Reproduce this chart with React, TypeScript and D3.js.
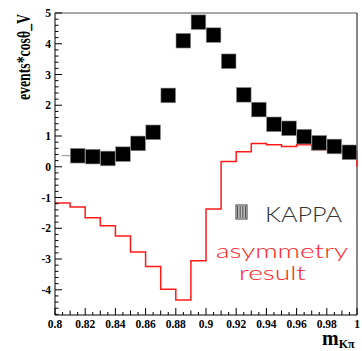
import React from "react";
import * as d3 from "d3";

const binEdges0 = 0.8;
const binWidth = 0.01;
const pointCenters = [0.815, 0.825, 0.835, 0.845, 0.855, 0.865, 0.875, 0.885, 0.895, 0.905, 0.915, 0.925, 0.935, 0.945, 0.955, 0.965, 0.975, 0.985, 0.995];
const pointValues = [0.36, 0.33, 0.27, 0.41, 0.76, 1.12, 2.32, 4.10, 4.70, 4.28, 3.43, 2.34, 1.86, 1.38, 1.25, 0.98, 0.78, 0.66, 0.47];
const pointXErr = [0.0105, 0.005, 0.005, 0.005, 0.005, 0.005, 0.005, 0.005, 0.005, 0.005, 0.005, 0.005, 0.005, 0.005, 0.005, 0.005, 0.005, 0.005, 0.005];
const redValues = [-1.18, -1.31, -1.66, -1.92, -2.25, -2.77, -3.24, -3.98, -4.33, -3.06, -1.37, 0.17, 0.49, 0.76, 0.72, 0.66, 0.72, 0.55, 0.55, 0.5];
const xTickLabels = ["0.8", "0.82", "0.84", "0.86", "0.88", "0.9", "0.92", "0.94", "0.96", "0.98", "1"];
const yTickLabels = ["-4", "-3", "-2", "-1", "0", "1", "2", "3", "4", "5"];

export default function App() {
  const W = 362, H = 351;
  const L = 55, R = 357, T = 13, B = 315;
  const x = d3.scaleLinear().domain([0.8, 1.0]).range([L, R]);
  const y = d3.scaleLinear().domain([-4.82, 5]).range([B, T]);
  const serif = "'Liberation Serif', 'Times New Roman', serif";
  const light = "Lato, 'DejaVu Sans', sans-serif";

  const pts: [number, number][] = [];
  redValues.forEach((v, i) => {
    const x0 = binEdges0 + i * binWidth;
    pts.push([x(x0), y(v)]);
    pts.push([x(x0 + binWidth), y(v)]);
  });
  pts.push([x(1.0), y(0)]);
  const redPath = d3.line()(pts) || "";

  const xMinor = d3.range(0, 41).map((i) => 0.8 + i * 0.005);
  const yMinor = d3.range(0, 50).map((i) => -4.8 + i * 0.2).filter((v) => v >= -4.82 && v <= 5.0001);

  const sq = x(0.81) - x(0.8) - 0.4;

  const boxX = 236, boxY = 205, boxW = 11, boxH = 14;
  const hatch = d3.range(boxX + 1.5, boxX + boxW, 1.6);

  return (
    <div style={{ position: "fixed", left: 0, top: 0 }}>
      <svg width={W} height={H} style={{ display: "block", background: "#fff" }}>
        <rect x={0} y={0} width={W} height={H} fill="#fff" />
        <line x1={L} y1={T} x2={R} y2={T} stroke="#555" strokeWidth={1} />
        <line x1={R} y1={T} x2={R} y2={B} stroke="#111" strokeWidth={1} />

        <path d={redPath} fill="none" stroke="#ff1a1a" strokeWidth={1.5} />

        {pointCenters.map((c, i) => (
          <line key={"e" + i} x1={x(Math.max(0.8, c - pointXErr[i]))} x2={x(Math.min(1.0, c + pointXErr[i]))} y1={y(pointValues[i])} y2={y(pointValues[i])} stroke="#888" strokeWidth={1} />
        ))}
        {pointCenters.map((c, i) => (
          <rect key={"s" + i} x={x(c) - sq / 2} y={y(pointValues[i]) - sq / 2} width={sq} height={sq} fill="#000" stroke="#999" strokeWidth={0.6} />
        ))}

        <line x1={L} y1={T} x2={L} y2={B} stroke="#000" strokeWidth={1} />
        <line x1={L} y1={B} x2={R} y2={B} stroke="#000" strokeWidth={1} />
        {xMinor.map((v, i) => {
          const len = i % 4 === 0 ? 7 : i % 2 === 0 ? 4.5 : 3;
          return <line key={"xt" + i} x1={x(v)} x2={x(v)} y1={B} y2={B - len} stroke="#000" strokeWidth={1} />;
        })}
        {yMinor.map((v, i) => {
          const major = Math.abs(v - Math.round(v)) < 1e-6;
          return <line key={"yt" + i} x1={L} x2={L + (major ? 7 : 3.5)} y1={y(v)} y2={y(v)} stroke="#000" strokeWidth={1} />;
        })}
        {xTickLabels.map((t, i) => (
          <text key={"xl" + i} x={x(+t)} y={327.5} textAnchor="middle" fontFamily={serif} fontWeight="bold" fontSize={11.5} fill="#000">{t}</text>
        ))}
        {yTickLabels.map((t, i) => (
          <text key={"yl" + i} x={51} y={y(+t)} dy="0.36em" textAnchor="end" fontFamily={serif} fontWeight="bold" fontSize={11.5} fill="#000">{t}</text>
        ))}

        <text transform="translate(30,14) rotate(-90)" textAnchor="end" fontFamily={serif} fontWeight="bold" fontSize={18} textLength={86} lengthAdjust="spacingAndGlyphs" fill="#000">events*cosθ_V</text>
        <text x={322} y={345} fontFamily={serif} fontWeight="bold" fontSize={20} fill="#000">m<tspan fontSize={12} dy={3}>Kπ</tspan></text>

        <rect x={boxX} y={boxY} width={boxW} height={boxH} fill="#fff" stroke="#333" strokeWidth={1} />
        {hatch.map((hx, i) => (
          <line key={"h" + i} x1={hx} x2={hx} y1={boxY + 1} y2={boxY + boxH - 1} stroke="#222" strokeWidth={0.8} />
        ))}
        <text x={265} y={221.5} fontFamily={light} fontWeight={300} fontSize={21} textLength={77} lengthAdjust="spacingAndGlyphs" fill="#333">KAPPA</text>
        <text x={216} y={258} fontFamily={light} fontWeight={300} fontSize={20} textLength={132} lengthAdjust="spacingAndGlyphs" fill="#ff2020">asymmetry</text>
        <text x={239} y={280} fontFamily={light} fontWeight={300} fontSize={20} textLength={67} lengthAdjust="spacingAndGlyphs" fill="#ff2020">result</text>
      </svg>
    </div>
  );
}
